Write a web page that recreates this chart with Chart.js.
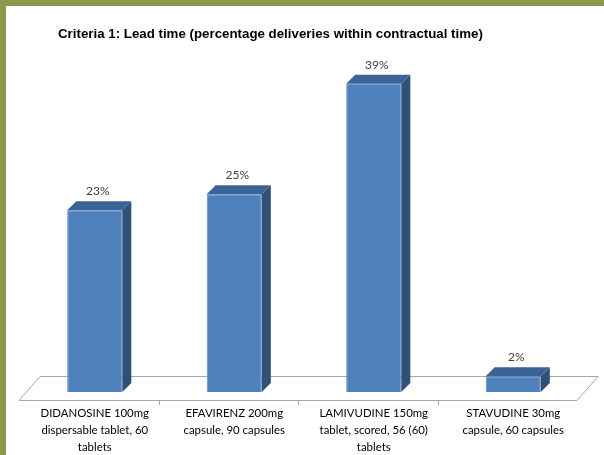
<!DOCTYPE html>
<html>
<head>
<meta charset="utf-8">
<script src="https://cdn.jsdelivr.net/npm/chart.js@4"></script>
<style>
  html, body { margin: 0; padding: 0; background: #8a9a4b; }
  #wrap { position: absolute; left: 6px; top: 6px; width: 598px; height: 449px; background: #fff; }
</style>
</head>
<body>
<div id="wrap"><canvas id="myChart" width="598" height="449"></canvas></div>
<script>
const ctx = document.getElementById('myChart');

const categories = [
    ['DIDANOSINE 100mg', 'dispersable tablet, 60', 'tablets'],
    ['EFAVIRENZ 200mg', 'capsule, 90 capsules'],
    ['LAMIVUDINE 150mg', 'tablet, scored, 56 (60)', 'tablets'],
    ['STAVUDINE 30mg', 'capsule, 60 capsules']
];
const values = [23, 25, 39, 2];
const titleText = 'Criteria 1: Lead time (percentage deliveries within contractual time)';
const labelFont = 'Lato, "Liberation Sans", sans-serif';

// fake 3d: side/top faces + floor, plus title and value labels
const depth3d = {
    id: 'depth3d',
    beforeDatasetsDraw: (chart) => {
        const { ctx, chartArea: a } = chart;
        const n = categories.length;
        const cw = (a.right - a.left) / n;
        const fy = a.bottom + 8, by = a.bottom - 16;
        const fl = a.left - 6, fr = a.right - 6;
        ctx.save();
        ctx.fillStyle = '#000';
        ctx.font = 'bold 13.3px "Liberation Sans", sans-serif';
        ctx.textBaseline = 'middle';
        ctx.fillText(titleText, 52, 28);

        ctx.strokeStyle = '#a6a6a6';
        ctx.lineWidth = 1;
        ctx.beginPath();
        ctx.moveTo(fl, fy + 0.5);
        ctx.lineTo(fr, fy + 0.5);
        ctx.lineTo(fr + 21, by + 0.5);
        ctx.lineTo(fl + 21, by + 0.5);
        ctx.closePath();
        ctx.stroke();
        ctx.beginPath();
        for (let i = 1; i < n; i++) {
            const x = Math.round(fl + i * cw) + 0.5;
            ctx.moveTo(x, fy);
            ctx.lineTo(x, fy + 5);
        }
        ctx.stroke();
        ctx.restore();
    },
    afterDatasetsDraw: (chart) => {
        const { ctx } = chart;
        const d = 9;
        chart.getDatasetMeta(0).data.forEach((bar, i) => {
            const x1 = bar.x - bar.width / 2, x2 = bar.x + bar.width / 2;
            const yt = bar.y, yb = bar.base;
            ctx.save();
            ctx.fillStyle = '#3b6396';
            ctx.beginPath();
            ctx.moveTo(x1, yt);
            ctx.lineTo(x1 + d, yt - d);
            ctx.lineTo(x2 + d, yt - d);
            ctx.lineTo(x2, yt);
            ctx.closePath();
            ctx.fill();
            ctx.fillStyle = '#2f5077';
            ctx.beginPath();
            ctx.moveTo(x2, yt);
            ctx.lineTo(x2 + d, yt - d);
            ctx.lineTo(x2 + d, yb - d);
            ctx.lineTo(x2, yb);
            ctx.closePath();
            ctx.fill();
            ctx.fillStyle = '#404040';
            ctx.font = '12px ' + labelFont;
            ctx.textAlign = 'center';
            ctx.textBaseline = 'middle';
            ctx.fillText(values[i] + '%', bar.x + 3, yt - 19);
            ctx.restore();
        });
    }
};

new Chart(ctx, {
    type: 'bar',
    data: {
        labels: categories,
        datasets: [{
            data: values,
            backgroundColor: '#4f81bd',
            borderColor: '#5b8cc6',
            borderWidth: 1,
            categoryPercentage: 1,
            barPercentage: 0.395
        }]
    },
    options: {
        responsive: false,
        animation: false,
        layout: { padding: { left: 19, right: 21, top: 46, bottom: 0 } },
        plugins: {
            legend: { display: false },
            tooltip: { enabled: false },
            title: { display: false }
        },
        scales: {
            y: { display: false, min: 0, max: 43 },
            x: {
                grid: { display: false },
                border: { display: false },
                afterFit: (scale) => { scale.height = 63; },
                ticks: {
                    color: '#000',
                    padding: 5,
                    maxRotation: 0,
                    font: { family: labelFont, size: 11.4, lineHeight: 1.47 }
                }
            }
        }
    },
    plugins: [depth3d]
});
</script>
</body>
</html>
